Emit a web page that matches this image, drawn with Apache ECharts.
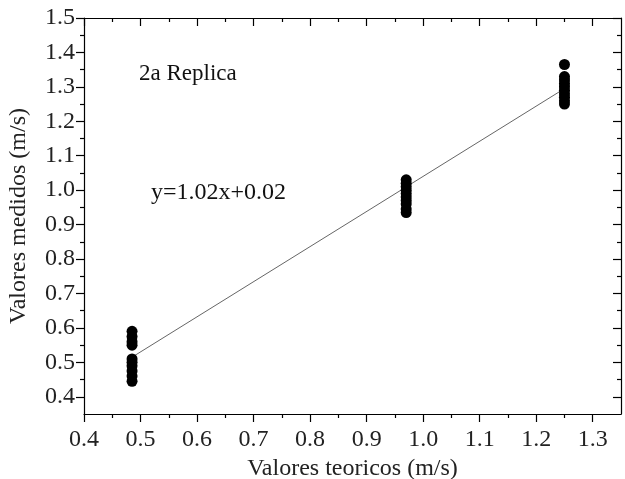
<!DOCTYPE html>
<html>
<head>
<meta charset="utf-8">
<script src="https://cdn.jsdelivr.net/npm/echarts@6/dist/echarts.min.js"></script>
<style>html,body{margin:0;padding:0;background:#fff;}#c{width:625px;height:479px;}</style>
</head>
<body>
<div id="c"></div>
<script>
// ---- data ----
const xTicks = [0.4, 0.5, 0.6, 0.7, 0.8, 0.9, 1.0, 1.1, 1.2, 1.3];
const xMinorTicks = [0.45, 0.55, 0.65, 0.75, 0.85, 0.95, 1.05, 1.15, 1.25];
const yTicks = [0.4, 0.5, 0.6, 0.7, 0.8, 0.9, 1.0, 1.1, 1.2, 1.3, 1.4, 1.5];
const yMinorTicks = [0.45, 0.55, 0.65, 0.75, 0.85, 0.95, 1.05, 1.15, 1.25, 1.35, 1.45];
const xGroupA = 0.485, xGroupB = 0.97, xGroupC = 1.25;
const yGroupA = [0.59, 0.575, 0.56, 0.55, 0.51, 0.50, 0.49, 0.475, 0.46, 0.445];
const yGroupB = [1.03, 1.02, 1.01, 1.0, 0.99, 0.98, 0.97, 0.96, 0.945, 0.935];
const yGroupC = [1.365, 1.33, 1.32, 1.31, 1.30, 1.29, 1.28, 1.27, 1.26, 1.25];
const fitLine = [[0.485, 0.515], [1.25, 1.295]];
const replicaLabel = '2a Replica';
const equationLabel = 'y=1.02x+0.02';
const xTitle = 'Valores teoricos (m/s)';
const yTitle = 'Valores medidos (m/s)';

// ---- chart ----
const FONT = '"Liberation Serif", "Times New Roman", serif';
const chart = echarts.init(document.getElementById('c'), null, {renderer: 'canvas'});
const fmt = v => Number(v).toFixed(1);
const lineStyle = {color: '#000', width: 1.2};

function xAx(pos, vals, len, inside, labels, line, name) {
  return {
    type: 'value', position: pos, min: 0.4, max: 1.35,
    name: name || '', nameLocation: 'middle', nameGap: 38,
    nameTextStyle: {fontFamily: FONT, fontSize: 24, color: '#222'},
    axisLine: {show: line, onZero: false, lineStyle: lineStyle},
    axisTick: {show: true, inside: inside, length: len, customValues: vals, lineStyle: lineStyle},
    axisLabel: {show: labels, customValues: xTicks, formatter: fmt, margin: 14,
      fontFamily: FONT, fontSize: 24, color: '#222'},
    splitLine: {show: false}
  };
}
function yAx(pos, vals, len, inside, labels, line, name) {
  return {
    type: 'value', position: pos, min: 0.35, max: 1.5,
    name: name || '', nameLocation: 'middle', nameGap: 53, nameRotate: 90,
    nameTextStyle: {fontFamily: FONT, fontSize: 24, color: '#222'},
    axisLine: {show: line, onZero: false, lineStyle: lineStyle},
    axisTick: {show: true, inside: inside, length: len, customValues: vals, lineStyle: lineStyle},
    axisLabel: {show: labels, customValues: yTicks, formatter: fmt, margin: 9,
      fontFamily: FONT, fontSize: 24, color: '#222'},
    splitLine: {show: false}
  };
}

function group(x, ys) { return ys.map(y => [x, y]); }

const scatterBase = {type: 'scatter', symbol: 'circle', symbolSize: 11,
  itemStyle: {color: '#000', opacity: 1}, xAxisIndex: 0, yAxisIndex: 0, z: 3};

chart.setOption({
  animation: false,
  backgroundColor: '#fff',
  grid: {left: 84, right: 4, top: 18, bottom: 65, containLabel: false, outerBoundsMode: 'none'},
  xAxis: [
    xAx('bottom', xTicks, 8, false, true, true, xTitle),
    xAx('bottom', xMinorTicks, 4, false, false, false),
    xAx('top', xTicks, 8, true, false, true),
    xAx('top', xMinorTicks, 4, true, false, false)
  ],
  yAxis: [
    yAx('left', yTicks, 8, false, true, true, yTitle),
    yAx('left', yMinorTicks, 4, false, false, false),
    yAx('right', yTicks, 8, true, false, true),
    yAx('right', yMinorTicks, 4, true, false, false)
  ],
  graphic: [
    {type: 'text', left: 139, top: 62, style: {text: replicaLabel, font: '23px ' + FONT, fill: '#111'}},
    {type: 'text', left: 151, top: 181, style: {text: equationLabel, font: '24px ' + FONT, fill: '#111'}}
  ],
  series: [
    {type: 'line', data: fitLine, symbol: 'none', xAxisIndex: 0, yAxisIndex: 0,
      lineStyle: {color: '#666', width: 1}, z: 2},
    Object.assign({data: group(xGroupA, yGroupA)}, scatterBase),
    Object.assign({data: group(xGroupB, yGroupB)}, scatterBase),
    Object.assign({data: group(xGroupC, yGroupC)}, scatterBase)
  ]
});
</script>
</body>
</html>
